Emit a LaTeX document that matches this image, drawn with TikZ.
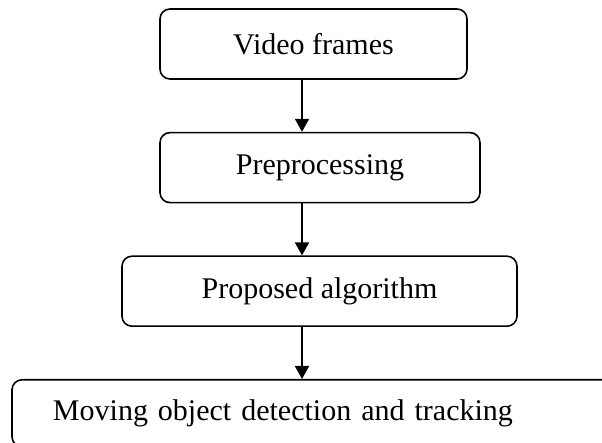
\documentclass[tikz,border=0pt]{standalone}
\usepackage{fontspec}
\setmainfont{Liberation Serif}
\usetikzlibrary{arrows.meta,positioning}

\begin{document}
\begin{tikzpicture}[
  font=\fontsize{15}{18}\selectfont,
  node distance=26pt,
  box/.style={draw,line width=0.8pt,rounded corners=5pt,align=center,
              minimum height=35pt,inner sep=2pt},
  ar/.style={-{Triangle[length=6.5pt,width=7pt]},line width=0.9pt}]
\useasboundingbox (0,0) rectangle (301pt,-221.5pt);
\node[box,minimum width=153.5pt] (frames) at (156.75pt,-22pt) {Video frames};
\node[box,minimum width=160pt,below=of frames,xshift=3.25pt] (prep) {Preprocessing};
\node[box,minimum width=197.5pt,below=of prep,xshift=-0.25pt] (algo) {Proposed algorithm};
\node[box,minimum height=33.5pt,text width=273pt,align=left,inner xsep=20.5pt,
      below=26pt of algo.south west,anchor=north west,xshift=-55pt] (track) {Moving object detection and tracking};
\coordinate (axis) at (151pt,0);
\draw[ar] (frames.south -| axis) -- (prep.north -| axis);
\draw[ar] (prep.south -| axis) -- (algo.north -| axis);
\draw[ar] (algo.south -| axis) -- (track.north -| axis);
\end{tikzpicture}
\end{document}
